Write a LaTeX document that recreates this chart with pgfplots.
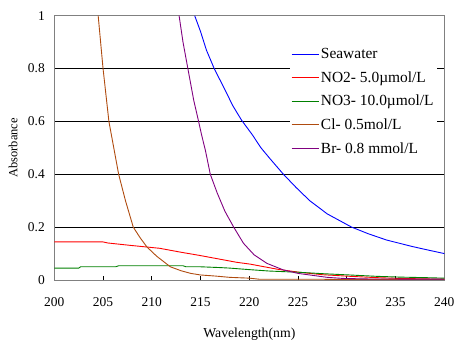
\documentclass[border=0pt]{standalone}
\usepackage{fontspec}
\setmainfont{Liberation Serif}
\usepackage{pgfplots}
\pgfplotsset{compat=1.18}
\definecolor{clbrown}{RGB}{175,75,15}
\definecolor{brpurple}{RGB}{128,0,128}
\definecolor{no3green}{RGB}{0,128,0}
\begin{document}
\begin{tikzpicture}
\path[use as bounding box] (-54.3bp,-61bp) rectangle (399.7bp,280bp);
\begin{axis}[
  at={(0,0)}, anchor=south west,
  scale only axis, width=390bp, height=264.3bp,
  xmin=200, xmax=240, ymin=0, ymax=1,
  xtick={200,205,...,240}, ytick={0,0.2,...,1},
  xtick pos=bottom, tick align=inside, major tick length=4bp,
  ytick style={draw=none},
  xtick style={black, line width=0.8pt},
  axis line style={draw=gray, line width=1pt},
  ymajorgrids, major grid style={black, line width=0.7pt},
  /pgf/number format/assume math mode=true,
  ticklabel style={font=\fontsize{13.5}{15}\selectfont},
  xticklabel style={anchor=base, yshift=-26.5bp},
  yticklabel style={xshift=-6bp},
  xlabel={Wavelength(nm)}, ylabel={Absorbance},
  every axis x label/.style={at={(axis description cs:0.5,-0.2176)}, anchor=base, font=\fontsize{13.8}{15}\selectfont},
  every axis y label/.style={at={(axis description cs:-0.1059,0.5)}, anchor=center, rotate=90, font=\fontsize{12.5}{14}\selectfont},
  legend style={at={(axis description cs:0.604,0.889)}, anchor=north west, draw=none, fill=white,
    font=\fontsize{15.5}{17}\selectfont, row sep=7.5bp, inner sep=1bp},
  legend cell align=left,
  legend image code/.code={\draw[#1] (0bp,0bp) -- (27bp,0bp);},
  every axis plot/.append style={line width=0.9pt},
]
\addplot[blue] coordinates {(214.4,1.0) (215.0,0.94) (215.6,0.87) (216.4,0.80) (217.5,0.72) (218.3,0.66) (219.2,0.605) (220.3,0.55) (221.2,0.50) (222.1,0.46) (223.5,0.40) (224.8,0.35) (226.2,0.30) (228.0,0.25) (230.5,0.20) (232.2,0.175) (234.1,0.151) (236.8,0.126) (238.5,0.112) (240,0.10)};
\addlegendentry{Seawater}
\addplot[red] coordinates {(200,0.144) (205.0,0.144) (205.5,0.140) (207.8,0.131) (210.8,0.12) (213,0.105) (214.9,0.093) (216.8,0.08) (218.7,0.067) (220.1,0.06) (221.4,0.051) (223,0.04) (225.2,0.029) (227.5,0.02) (230.3,0.014) (233,0.009) (235.4,0.006) (240,0.003)};
\addlegendentry{NO2- 5.0µmol/L}
\addplot[no3green] coordinates {(200,0.045) (202.5,0.045) (202.7,0.05) (206.3,0.05) (206.6,0.054) (213.2,0.054) (213.5,0.05) (215,0.05) (217,0.047) (218,0.045) (220.1,0.039) (222,0.034) (225.2,0.029) (227.5,0.024) (230.3,0.019) (233,0.014) (235.4,0.011) (238,0.009) (240,0.007)};
\addlegendentry{NO3- 10.0µmol/L}
\addplot[clbrown] coordinates {(204.5,1.0) (205.0,0.80) (205.6,0.60) (206.1,0.50) (206.6,0.40) (207.3,0.30) (208.1,0.20) (208.8,0.16) (209.5,0.125) (210.5,0.09) (211.9,0.05) (213,0.035) (214,0.025) (215,0.019) (216.5,0.015) (218,0.01) (220,0.007) (221,0.003) (240,0.002)};
\addlegendentry{Cl- 0.5mol/L}
\addplot[brpurple] coordinates {(212.8,1.0) (213.2,0.9) (213.7,0.80) (214.3,0.68) (214.8,0.60) (215.1,0.55) (215.5,0.49) (216.0,0.40) (216.7,0.33) (217.5,0.26) (218.4,0.20) (219.4,0.139) (220.5,0.095) (221.8,0.063) (223.5,0.038) (225,0.025) (226.2,0.019) (228,0.01) (229.6,0.006) (232,0.004) (240,0.003)};
\addlegendentry{Br- 0.8 mmol/L}
\end{axis}
\end{tikzpicture}
\end{document}
